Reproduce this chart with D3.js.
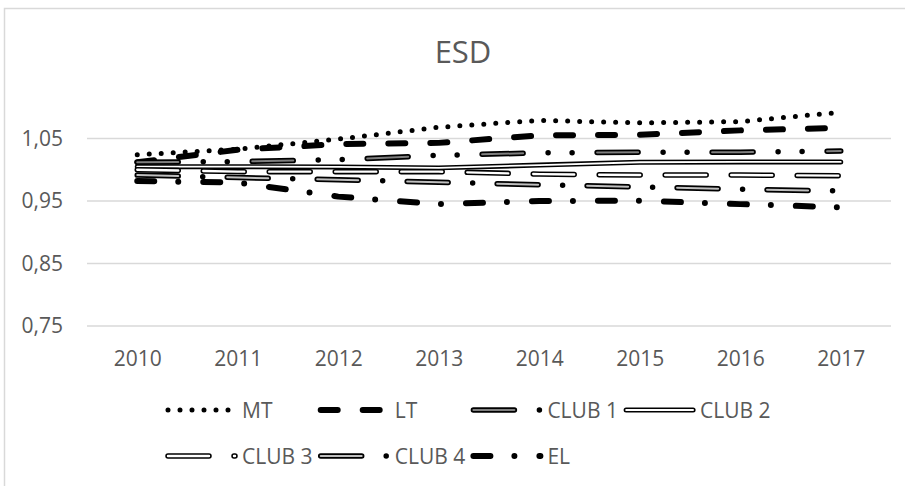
<!DOCTYPE html>
<html>
<head>
<meta charset="utf-8">
<script src="https://cdn.jsdelivr.net/npm/d3@7"></script>
<style>
  body { margin: 0; background: #fff; }
  text { font-family: "Open Sans", sans-serif; fill: #595959; }
</style>
</head>
<body>
<div id="chart"></div>
<script>
// data
const years = ["2010", "2011", "2012", "2013", "2014", "2015", "2016", "2017"];
const mt    = [1.024, 1.033, 1.049, 1.068, 1.079, 1.075, 1.077, 1.092];
const lt    = [1.012, 1.032, 1.041, 1.043, 1.055, 1.056, 1.063, 1.067];
const club1 = [1.012, 1.013, 1.016, 1.023, 1.027, 1.028, 1.028, 1.030];
const club2 = [1.005, 1.005, 1.0045, 1.003, 1.0075, 1.012, 1.0125, 1.0125];
const club3 = [1.000, 0.997, 0.997, 0.997, 0.993, 0.9915, 0.9915, 0.9905];
const club4 = [0.9915, 0.9875, 0.984, 0.980, 0.976, 0.9725, 0.969, 0.966];
const el    = [0.982, 0.9795, 0.957, 0.945, 0.950, 0.9505, 0.945, 0.940];
const yTicks = [0.75, 0.85, 0.95, 1.05];
const seriesNames = ["MT", "LT", "CLUB 1", "CLUB 2", "CLUB 3", "CLUB 4", "EL"];
const seriesValues = [mt, lt, club1, club2, club3, club4, el];

// line looks (black & white print style), one per series
const looks = [
  { w: 5, dash: "0,12" },
  { w: 6, dash: "17,25" },
  { w: 5.5, dash: "41,25,0,24,0,25", inner: "#7f7f7f", iw: 2, idash: "41,74" },
  { w: 5, dash: null, inner: "#fff", iw: 1.8, idash: null },
  { w: 5.5, dash: "41,25", inner: "#fff", iw: 2.4, idash: "41,25" },
  { w: 5.5, dash: "41,24.5,0,24.5", inner: "#bfbfbf", iw: 2, idash: "41,49" },
  { w: 6, dash: "17,24,0,25" }
];

const W = 905, H = 486;
const plot = { left: 87, right: 891, top: 107.25, bottom: 326 };

const svg = d3.select("#chart").append("svg")
  .attr("width", W).attr("height", H);

// chart frame (runs off the right and bottom)
svg.append("rect")
  .attr("x", 4.5).attr("y", 8.5)
  .attr("width", 1000).attr("height", 1000)
  .attr("fill", "none").attr("stroke", "#d9d9d9").attr("stroke-width", 1.5);

svg.append("text")
  .attr("x", 463).attr("y", 63)
  .attr("text-anchor", "middle")
  .attr("font-size", "31px")
  .text("ESD");

const x = d3.scalePoint().domain(years)
  .range([plot.left, plot.right]).padding(0.5);
const y = d3.scaleLinear().domain([0.75, 1.1])
  .range([plot.bottom, plot.top]);

const fmt = d3.formatLocale({ decimal: ",", thousands: ".", grouping: [3], currency: ["", ""] }).format(".2f");

// gridlines
svg.append("g")
  .selectAll("line")
  .data(yTicks)
  .join("line")
  .attr("x1", plot.left).attr("x2", plot.right)
  .attr("y1", d => y(d)).attr("y2", d => y(d))
  .attr("stroke", "#d9d9d9").attr("stroke-width", 1.5);

// y axis labels
const yAxis = svg.append("g")
  .attr("transform", `translate(${plot.left},0)`)
  .call(d3.axisLeft(y).tickValues(yTicks).tickSize(0).tickPadding(24).tickFormat(fmt));
yAxis.select(".domain").remove();
yAxis.selectAll("text").attr("font-size", "21px").attr("fill", "#595959")
  .style("font-family", "Open Sans");

// x axis labels
const xAxis = svg.append("g")
  .attr("transform", `translate(0,${plot.bottom})`)
  .call(d3.axisBottom(x).tickSize(0).tickPadding(25));
xAxis.select(".domain").remove();
xAxis.selectAll("text").attr("font-size", "21px").attr("fill", "#595959")
  .style("font-family", "Open Sans");

function drawStroke(g, pathD, look) {
  g.append("path")
    .attr("d", pathD)
    .attr("fill", "none")
    .attr("stroke", "#000")
    .attr("stroke-width", look.w)
    .attr("stroke-linecap", "round")
    .attr("stroke-linejoin", "round")
    .attr("stroke-dasharray", look.dash);
  if (look.inner) {
    g.append("path")
      .attr("d", pathD)
      .attr("fill", "none")
      .attr("stroke", look.inner)
      .attr("stroke-width", look.iw)
      .attr("stroke-linecap", "round")
      .attr("stroke-linejoin", "round")
      .attr("stroke-dasharray", look.idash);
  }
}

const line = d3.line()
  .x((d, i) => x(years[i]))
  .y(d => y(d));

const lines = svg.append("g");
seriesValues.forEach(function (vals, i) {
  drawStroke(lines.append("g"), line(vals), looks[i]);
});

// legend: 4 in the first row, 3 in the second
const legend = svg.append("g");
seriesNames.forEach(function (name, i) {
  const col = i < 4 ? i : i - 4;
  const row = i < 4 ? 0 : 1;
  const x0 = 165 + col * 152.7;
  const yy = row === 0 ? 410 : 456;
  const g = legend.append("g");
  drawStroke(g, `M${x0 + 3},${yy}H${x0 + 70}`, looks[i]);
  g.append("text")
    .attr("x", x0 + 77).attr("y", yy + 8)
    .attr("font-size", "21px")
    .text(name);
});
</script>
</body>
</html>
